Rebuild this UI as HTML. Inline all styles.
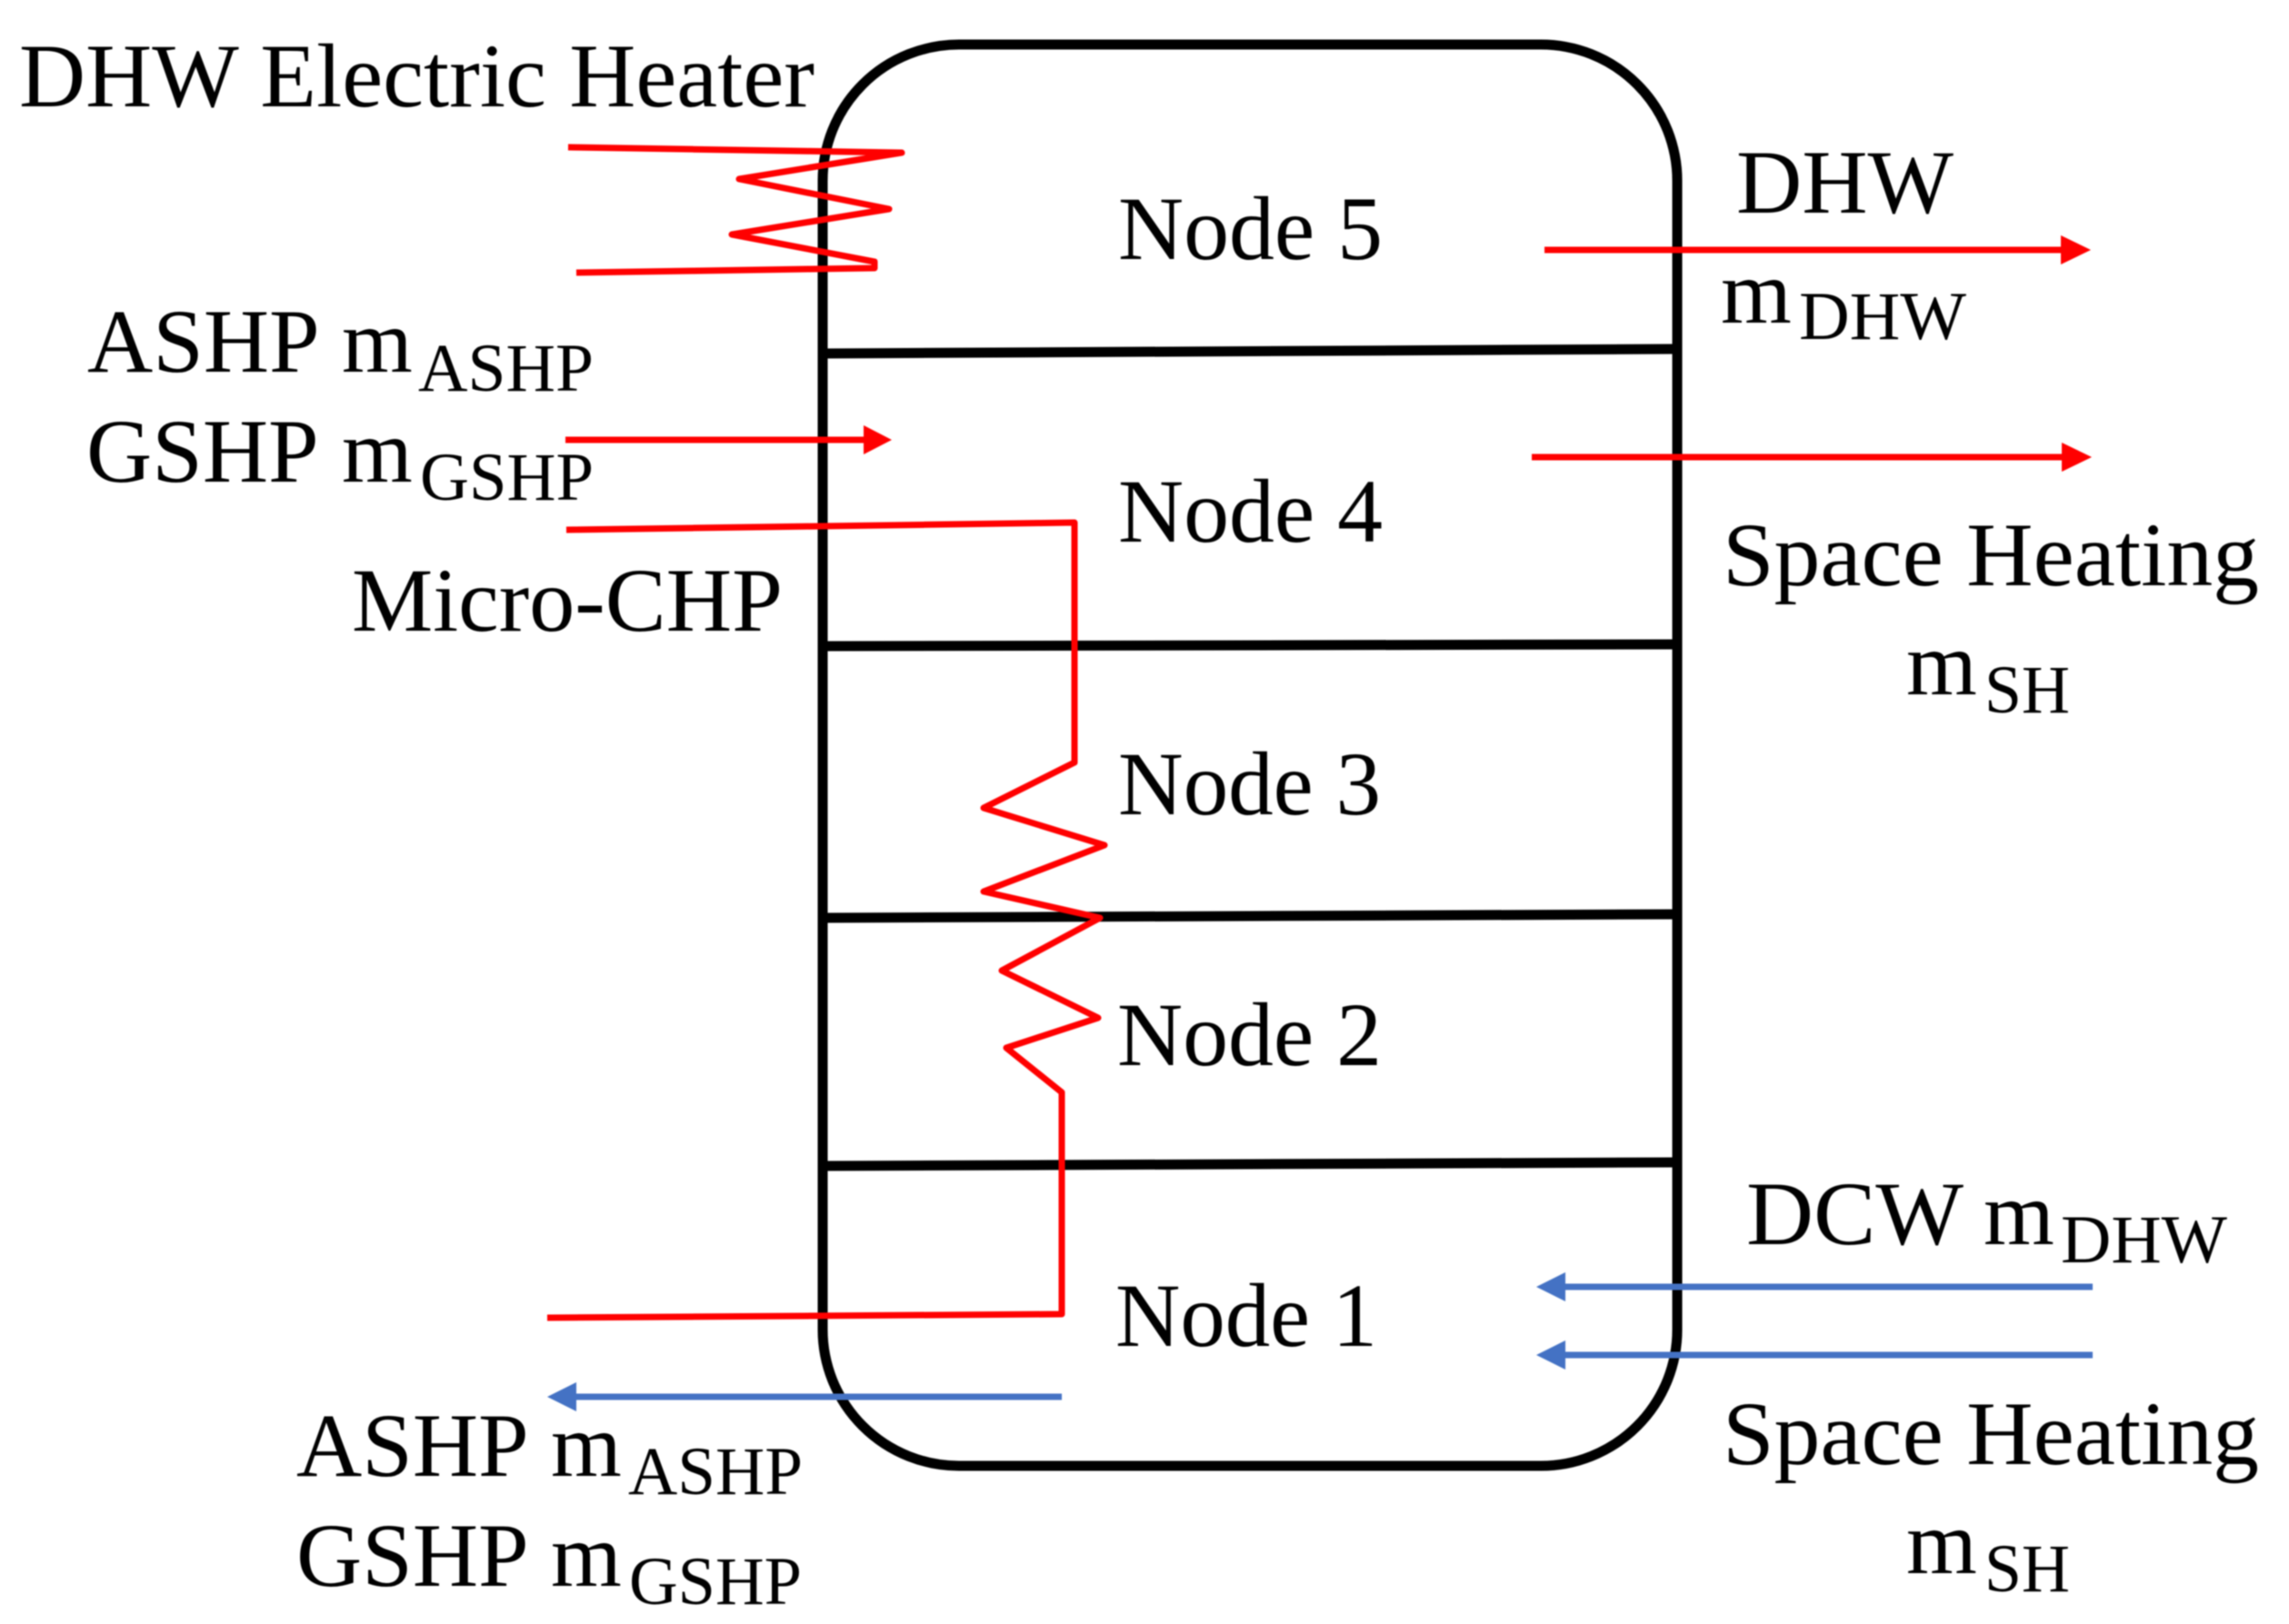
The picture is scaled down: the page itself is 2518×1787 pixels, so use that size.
<!DOCTYPE html>
<html>
<head>
<meta charset="utf-8">
<style>
html,body{margin:0;padding:0;background:#fff;width:2518px;height:1787px;overflow:hidden}
svg{display:block;filter:blur(0.8px)}
text{font-family:"Liberation Serif",serif;fill:#000;font-size:100px}
text.s{font-size:75px}
.b{fill:none;stroke:#000;stroke-width:11}
.r{fill:none;stroke:#f00;stroke-width:7;stroke-linejoin:round}
.u{fill:none;stroke:#4472c4;stroke-width:7}
</style>
</head>
<body>
<svg xmlns="http://www.w3.org/2000/svg" width="2518" height="1787" viewBox="0 0 2518 1787">
<rect width="2518" height="1787" fill="#fff"/>
<!-- tank -->
<rect class="b" x="905" y="49" width="940" height="1564" rx="150" ry="150"/>
<path class="b" d="M905 389L1845 384M905 711L1845 709M905 1010L1845 1006M905 1283L1845 1279"/>
<!-- electric heater -->
<path class="r" d="M625 162L992 168L813 197L978 230L805 258L962 288V295L634 300"/>
<!-- GSHP in -->
<path class="r" d="M622 484H955"/><path fill="#f00" d="M950 468L981 484L950 500Z"/>
<!-- micro-CHP coil -->
<path class="r" d="M623 583L1182 575V839L1082 889L1215 930L1082 981L1210 1010L1102 1068L1208 1120L1107 1153L1168 1202V1446L602 1450"/>
<!-- outgoing red -->
<path class="r" d="M1699 275H2272"/><path fill="#f00" d="M2267 259L2300 275L2267 291Z"/>
<path class="r" d="M1685 503H2272"/><path fill="#f00" d="M2268 487L2301 503L2268 519Z"/>
<!-- blue -->
<path class="u" d="M1168 1537H630"/><path fill="#4472c4" d="M634 1521L602 1537L634 1553Z"/>
<path class="u" d="M2302 1416H1718"/><path fill="#4472c4" d="M1722 1400L1690 1416L1722 1432Z"/>
<path class="u" d="M2302 1491H1718"/><path fill="#4472c4" d="M1722 1475L1690 1491L1722 1507Z"/>
<!-- labels -->
<text x="21" y="117" textLength="875" lengthAdjust="spacingAndGlyphs">DHW Electric Heater</text>
<text x="96" y="409">ASHP</text><text x="376" y="409">m</text>
<text class="s" x="460" y="430" textLength="193" lengthAdjust="spacingAndGlyphs">ASHP</text>
<text x="95" y="530">GSHP</text><text x="376" y="530">m</text>
<text class="s" x="462" y="550" textLength="191" lengthAdjust="spacingAndGlyphs">GSHP</text>
<text x="387" y="694" textLength="474" lengthAdjust="spacingAndGlyphs">Micro-CHP</text>
<text x="1230" y="285" textLength="291" lengthAdjust="spacingAndGlyphs">Node 5</text>
<text x="1230" y="596" textLength="291" lengthAdjust="spacingAndGlyphs">Node 4</text>
<text x="1230" y="896" textLength="289" lengthAdjust="spacingAndGlyphs">Node 3</text>
<text x="1229" y="1172" textLength="291" lengthAdjust="spacingAndGlyphs">Node 2</text>
<text x="1227" y="1481" textLength="288" lengthAdjust="spacingAndGlyphs">Node 1</text>
<text x="1910" y="234" textLength="239" lengthAdjust="spacingAndGlyphs">DHW</text>
<text x="1893" y="355">m</text>
<text class="s" x="1979" y="373" textLength="184" lengthAdjust="spacingAndGlyphs">DHW</text>
<text x="1895" y="644" textLength="590" lengthAdjust="spacingAndGlyphs">Space Heating</text>
<text x="2097" y="764">m</text>
<text class="s" x="2183" y="784" textLength="94" lengthAdjust="spacingAndGlyphs">SH</text>
<text x="326" y="1624">ASHP</text><text x="606" y="1624">m</text>
<text class="s" x="691" y="1644" textLength="192" lengthAdjust="spacingAndGlyphs">ASHP</text>
<text x="326" y="1745">GSHP</text><text x="606" y="1745">m</text>
<text class="s" x="692" y="1765" textLength="190" lengthAdjust="spacingAndGlyphs">GSHP</text>
<text x="1921" y="1369" textLength="239" lengthAdjust="spacingAndGlyphs">DCW</text>
<text x="2182" y="1369">m</text>
<text class="s" x="2267" y="1389" textLength="183" lengthAdjust="spacingAndGlyphs">DHW</text>
<text x="1895" y="1611" textLength="590" lengthAdjust="spacingAndGlyphs">Space Heating</text>
<text x="2097" y="1731">m</text>
<text class="s" x="2183" y="1751" textLength="94" lengthAdjust="spacingAndGlyphs">SH</text>
</svg>
</body>
</html>
